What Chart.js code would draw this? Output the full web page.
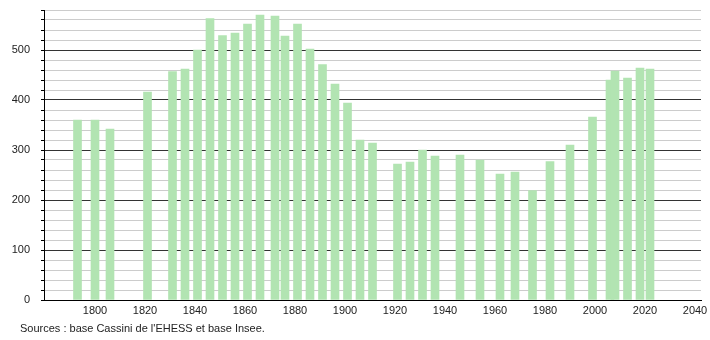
<!DOCTYPE html>
<html>
<head>
<meta charset="utf-8">
<script src="https://cdn.jsdelivr.net/npm/chart.js@4"></script>
<style>
  body { margin: 0; background: #fff; }
  #wrap { position: relative; width: 710px; height: 340px; }
  #source {
    position: absolute; left: 20px; top: 322px;
    font: 11px "Liberation Sans", Arial, sans-serif; color: #222;
  }
</style>
</head>
<body>
<div id="wrap">
  <canvas id="myChart" width="710" height="340"></canvas>
  <div id="source">Sources : base Cassini de l'EHESS et base Insee.</div>
</div>
<script>
// census years and population
const years = [1793, 1800, 1806, 1821, 1831, 1836, 1841, 1846, 1851, 1856, 1861, 1866, 1872, 1876,
  1881, 1886, 1891, 1896, 1901, 1906, 1911, 1921, 1926, 1931, 1936, 1946, 1954, 1962, 1968,
  1975, 1982, 1990, 1999, 2006, 2008, 2013, 2018, 2022];
const population = [360, 360, 342, 416, 457, 462, 500, 563, 529, 534, 552, 570, 568, 528,
  552, 502, 471, 432, 394, 320, 314, 272, 276, 300, 288, 290, 280, 252, 256,
  219, 277, 310, 366, 440, 458, 444, 464, 462];
const xTicks = [1800, 1820, 1840, 1860, 1880, 1900, 1920, 1940, 1960, 1980, 2000, 2020, 2040];

const ctx = document.getElementById('myChart').getContext('2d');
const myChart = new Chart(ctx, {
  type: 'bar',
  data: {
    datasets: [{
      data: years.map((yr, i) => ({ x: yr, y: population[i] })),
      backgroundColor: 'rgb(178, 228, 178)',
      borderWidth: 0,
      barThickness: 8
    }]
  },
  options: {
    responsive: false,
    animation: false,
    layout: { padding: { top: 10, right: 9, left: 0, bottom: 0 } },
    scales: {
      x: {
        type: 'linear',
        offset: false,
        min: 1779.6,
        max: 2042.4,
        afterBuildTicks: scale => { scale.ticks = xTicks.map(v => ({ value: v })); },
        afterFit: scale => { scale.height = 40; scale.paddingLeft = 0; scale.paddingRight = 0; },
        grid: { display: false, drawTicks: false },
        border: { display: true, color: '#000', width: 1 },
        ticks: {
          color: '#222',
          padding: 4,
          maxRotation: 0,
          autoSkip: false,
          font: { family: 'Liberation Sans', size: 11 },
          callback: v => String(v)
        }
      },
      y: {
        min: 0,
        max: 580,
        afterFit: scale => { scale.width = 44; scale.paddingTop = 0; scale.paddingBottom = 0; },
        border: { display: true, color: '#000', width: 1 },
        grid: {
          color: c => (c.tick.value % 100 === 0 ? '#333' : '#ccc'),
          tickColor: '#000',
          tickLength: 3
        },
        ticks: {
          stepSize: 20,
          color: '#222',
          padding: 11,
          autoSkip: false,
          font: { family: 'Liberation Sans', size: 11 },
          callback: v => (v % 100 === 0 ? String(v) : '')
        }
      }
    },
    plugins: {
      legend: { display: false },
      tooltip: { enabled: false }
    }
  }
});
</script>
</body>
</html>
